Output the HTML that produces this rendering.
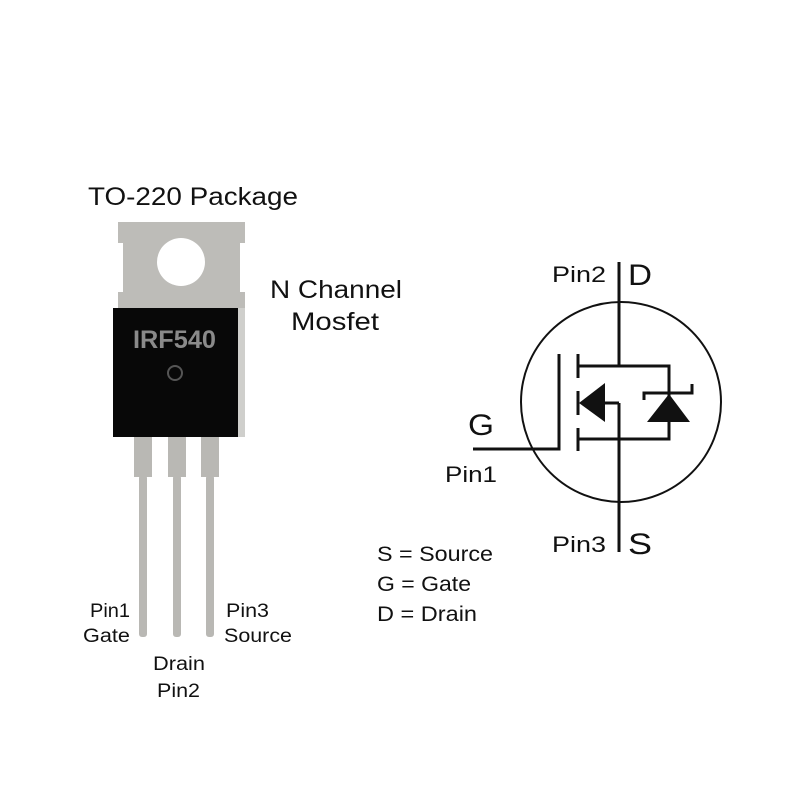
<!DOCTYPE html>
<html><head><style>
html,body{margin:0;padding:0;background:#fff;width:800px;height:800px;overflow:hidden}
svg text{font-family:"Liberation Sans",Arial,sans-serif;fill:#111}
</style></head><body>
<svg width="800" height="800" viewBox="0 0 800 800" xmlns="http://www.w3.org/2000/svg">
<text x="88" y="205" font-size="25" textLength="210" lengthAdjust="spacingAndGlyphs">TO-220 Package</text>
<text x="270" y="298" font-size="25" textLength="132" lengthAdjust="spacingAndGlyphs">N Channel</text>
<text x="291" y="330" font-size="25" textLength="88" lengthAdjust="spacingAndGlyphs">Mosfet</text>
<!-- tab -->
<path d="M118,222 H245 V243 H240 V292 H245 V308 H118 V292 H123 V243 H118 Z" fill="#bdbcb8"/>
<circle cx="181" cy="262" r="24" fill="#fff"/>
<rect x="237" y="308" width="8" height="129" fill="#cfcfcc"/>
<rect x="113" y="308" width="125" height="129" fill="#080808"/>
<text x="133" y="348" font-size="25" textLength="83" lengthAdjust="spacingAndGlyphs" style="fill:#8a8a8a;font-weight:bold">IRF540</text>
<circle cx="175" cy="373" r="7" fill="none" stroke="#555" stroke-width="2"/>
<!-- leads -->
<g fill="#b9b8b4">
<rect x="134" y="437" width="18" height="40"/><rect x="139" y="475" width="8" height="162" rx="3"/>
<rect x="168" y="437" width="18" height="40"/><rect x="173" y="475" width="8" height="162" rx="3"/>
<rect x="201" y="437" width="18" height="40"/><rect x="206" y="475" width="8" height="162" rx="3"/>
</g>
<g font-size="19">
<text x="90" y="617" textLength="40" lengthAdjust="spacingAndGlyphs">Pin1</text>
<text x="83" y="642" textLength="47" lengthAdjust="spacingAndGlyphs">Gate</text>
<text x="153" y="670" textLength="52" lengthAdjust="spacingAndGlyphs">Drain</text>
<text x="157" y="697" textLength="43" lengthAdjust="spacingAndGlyphs">Pin2</text>
<text x="226" y="617" textLength="43" lengthAdjust="spacingAndGlyphs">Pin3</text>
<text x="224" y="642" textLength="68" lengthAdjust="spacingAndGlyphs">Source</text>
</g>
<!-- schematic -->
<circle cx="621" cy="402" r="100" fill="none" stroke="#111" stroke-width="2"/>
<g stroke="#111" stroke-width="3" fill="none">
<line x1="619" y1="262" x2="619" y2="366"/>
<line x1="619" y1="403" x2="619" y2="552"/>
<polyline points="473,449 559,449 559,354"/>
<line x1="578" y1="354" x2="578" y2="378"/>
<line x1="578" y1="391" x2="578" y2="415"/>
<line x1="578" y1="428" x2="578" y2="451"/>
<polyline points="578,366 669,366 669,439 578,439"/>
<line x1="595" y1="403" x2="619" y2="403"/>
<polyline points="644,400 644,393 692,393 692,384"/>
</g>
<polygon points="579,403 605,383 605,422" fill="#111"/>
<polygon points="669,394 647,422 690,422" fill="#111"/>
<text x="552" y="282" font-size="22" textLength="54" lengthAdjust="spacingAndGlyphs">Pin2</text>
<text x="628" y="285" font-size="30" textLength="24" lengthAdjust="spacingAndGlyphs">D</text>
<text x="468" y="435" font-size="30" textLength="26" lengthAdjust="spacingAndGlyphs">G</text>
<text x="445" y="482" font-size="22" textLength="52" lengthAdjust="spacingAndGlyphs">Pin1</text>
<text x="552" y="552" font-size="22" textLength="54" lengthAdjust="spacingAndGlyphs">Pin3</text>
<text x="628" y="554" font-size="30" textLength="24" lengthAdjust="spacingAndGlyphs">S</text>
<g font-size="21">
<text x="377" y="561" textLength="116" lengthAdjust="spacingAndGlyphs">S = Source</text>
<text x="377" y="591" textLength="94" lengthAdjust="spacingAndGlyphs">G = Gate</text>
<text x="377" y="621" textLength="100" lengthAdjust="spacingAndGlyphs">D = Drain</text>
</g>
</svg>
</body></html>
